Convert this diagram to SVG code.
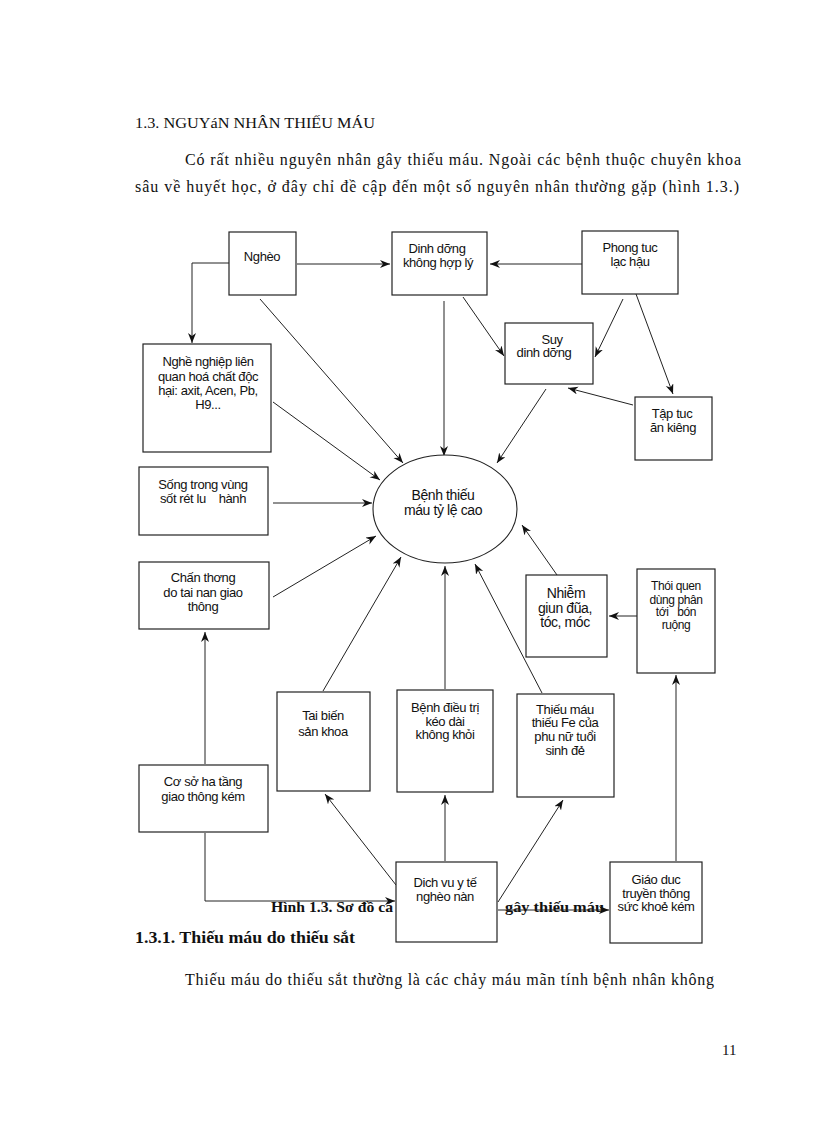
<svg xmlns="http://www.w3.org/2000/svg" width="816" height="1123" viewBox="0 0 816 1123">
<style>
.pg{font-family:"Liberation Serif","Times New Roman",serif;fill:#111}
.b{fill:#fff;stroke:#222;stroke-width:1.2}
.t{font-family:"Liberation Sans",Arial,sans-serif;font-size:13px;letter-spacing:-0.4px;fill:#111;text-anchor:middle}
.s{font-size:12px}
.m{font-size:14px}
.c line,.c polyline{stroke:#222;stroke-width:1;fill:none;marker-end:url(#ah)}
</style>
<defs>
<marker id="ah" markerUnits="userSpaceOnUse" markerWidth="12" markerHeight="10" refX="10" refY="4" orient="auto">
<path d="M0,0 L10,4 L0,8 L3,4 z" fill="#111"/>
</marker>
</defs>
<rect width="816" height="1123" fill="#fff"/>
<g id="page-text" class="pg">
<text x="135" y="128" font-size="15" textLength="240" lengthAdjust="spacingAndGlyphs">1.3. NGUYáN NHÂN THIẾU  MÁU</text>
<text x="185" y="165" font-size="16" textLength="556" lengthAdjust="spacing">Có rất nhiều nguyên nhân gây thiếu máu. Ngoài các bệnh thuộc chuyên khoa</text>
<text x="135" y="192" font-size="16" textLength="604" lengthAdjust="spacing">sâu về huyết học, ở đây chỉ đề cập đến một số nguyên nhân thường gặp (hình 1.3.)</text>
<text x="271" y="912" font-size="15" font-weight="bold" textLength="122" lengthAdjust="spacingAndGlyphs">Hình 1.3. Sơ đồ cá</text>
<text x="505" y="912" font-size="15" font-weight="bold" textLength="99" lengthAdjust="spacingAndGlyphs">gây thiếu máu</text>
<text x="135" y="943" font-size="16" font-weight="bold" textLength="220" lengthAdjust="spacingAndGlyphs">1.3.1. Thiếu máu do thiếu sắt</text>
<text x="185" y="985" font-size="16" textLength="529" lengthAdjust="spacing">Thiếu máu do thiếu sắt thường là các chảy máu mãn tính bệnh nhân không</text>
<text x="722" y="1055" font-size="15">11</text>
</g>
<g id="connectors" class="c">
<line x1="297" y1="264" x2="390" y2="264"/>
<line x1="582" y1="264" x2="490" y2="264"/>
<polyline points="229,263 192,263 192,343"/>
<line x1="260" y1="299" x2="403" y2="463"/>
<line x1="444" y1="301" x2="444" y2="456"/>
<line x1="463" y1="297" x2="504" y2="356"/>
<line x1="623" y1="299" x2="595" y2="357"/>
<line x1="636" y1="294" x2="673" y2="394"/>
<line x1="633" y1="405" x2="568" y2="388"/>
<line x1="546" y1="389" x2="497" y2="463"/>
<line x1="273" y1="402" x2="380" y2="480"/>
<line x1="273" y1="503" x2="372" y2="503"/>
<line x1="273" y1="597" x2="376" y2="536"/>
<line x1="323" y1="691" x2="401" y2="557"/>
<line x1="445" y1="689" x2="445" y2="566"/>
<line x1="542" y1="693" x2="475" y2="564"/>
<line x1="557" y1="575" x2="522" y2="525"/>
<line x1="637" y1="616" x2="609" y2="616"/>
<line x1="676" y1="861" x2="676" y2="675"/>
<line x1="205" y1="764" x2="205" y2="632"/>
<polyline points="205,833 205,901 395,901"/>
<line x1="396" y1="885" x2="325" y2="794"/>
<line x1="445" y1="861" x2="445" y2="795"/>
<line x1="498" y1="902" x2="563" y2="800"/>
<line x1="498" y1="910" x2="609" y2="910"/>
</g>
<g id="n-ngheo"><rect class="b" x="229" y="232" width="67" height="63"/><text class="t" x="262" y="261">Nghèo</text></g>
<g id="n-dinhduong"><rect class="b" x="392" y="232" width="95" height="63"/><text class="t" x="437" y="253">Dinh dỡng</text><text class="t" x="438" y="267">không hợp lý</text></g>
<g id="n-phongtuc"><rect class="b" x="582" y="231" width="96" height="63"/><text class="t" x="630" y="252">Phong tuc</text><text class="t" x="630" y="266">lạc hậu</text></g>
<g id="n-suy"><rect class="b" x="505" y="323" width="88" height="61"/><text class="t" x="552" y="344">Suy</text><text class="t" x="544" y="357">dinh dỡng</text></g>
<g id="n-taptuc"><rect class="b" x="635" y="397" width="77" height="63"/><text class="t" x="672" y="418">Tập tuc</text><text class="t" x="673" y="432">ăn kiêng</text></g>
<g id="n-nghenghiep"><rect class="b" x="143" y="344" width="128" height="108"/><text class="t" x="208" y="366">Nghề nghiệp liên</text><text class="t" x="208" y="381">quan hoá chất độc</text><text class="t" x="208" y="395">hại: axit, Acen, Pb,</text><text class="t" x="208" y="409">H9...</text></g>
<g id="n-song"><rect class="b" x="139" y="467" width="129" height="68"/><text class="t" x="203" y="489">Sống trong vùng</text><text class="t" x="203" y="503" xml:space="preserve">sốt rét lu    hành</text></g>
<g id="n-chanthuong"><rect class="b" x="139" y="562" width="130" height="67"/><text class="t" x="203" y="582">Chấn thơng</text><text class="t" x="203" y="597">do tai nan giao</text><text class="t" x="203" y="611">thông</text></g>
<g id="n-benhthieumau"><ellipse cx="445" cy="509" rx="72" ry="54" fill="#fff" stroke="#222" stroke-width="1.1"/><text class="t m" x="443" y="500">Bệnh thiếu</text><text class="t m" x="443" y="515">máu tỷ lệ cao</text></g>
<g id="n-nhiem"><rect class="b" x="526" y="575" width="81" height="82"/><text class="t m" x="566" y="598">Nhiễm</text><text class="t m" x="565" y="613">giun đũa,</text><text class="t m" x="565" y="627">tóc, móc</text></g>
<g id="n-thoiquen"><rect class="b" x="637" y="569" width="78" height="104"/><text class="t s" x="676" y="590">Thói quen</text><text class="t s" x="676" y="604">dùng phân</text><text class="t s" x="676" y="616" xml:space="preserve">tới   bón</text><text class="t s" x="676" y="629">ruộng</text></g>
<g id="n-taibien"><rect class="b" x="277" y="692" width="93" height="99"/><text class="t" x="323" y="720">Tai biến</text><text class="t" x="323" y="736">sản khoa</text></g>
<g id="n-benhdieutri"><rect class="b" x="397" y="690" width="96" height="102"/><text class="t" x="445" y="712">Bệnh điều trị</text><text class="t" x="445" y="726">kéo dài</text><text class="t" x="445" y="739">không khỏi</text></g>
<g id="n-thieufe"><rect class="b" x="517" y="694" width="97" height="103"/><text class="t" x="565" y="714">Thiếu máu</text><text class="t" x="565" y="727">thiếu Fe của</text><text class="t" x="565" y="741">phu nữ tuổi</text><text class="t" x="565" y="755">sinh đẻ</text></g>
<g id="n-coso"><rect class="b" x="139" y="765" width="129" height="67"/><text class="t" x="203" y="786">Cơ sở ha tầng</text><text class="t" x="203" y="801">giao thông kém</text></g>
<g id="n-dichvu"><rect class="b" x="396" y="862" width="101" height="80"/><text class="t" x="445" y="887">Dich vu y tế</text><text class="t" x="445" y="901">nghèo nàn</text></g>
<g id="n-giaoduc"><rect class="b" x="610" y="862" width="92" height="81"/><text class="t" x="656" y="884">Giáo duc</text><text class="t" x="656" y="898">truyền thông</text><text class="t" x="656" y="911">sức khoẻ kém</text></g>
</svg>
